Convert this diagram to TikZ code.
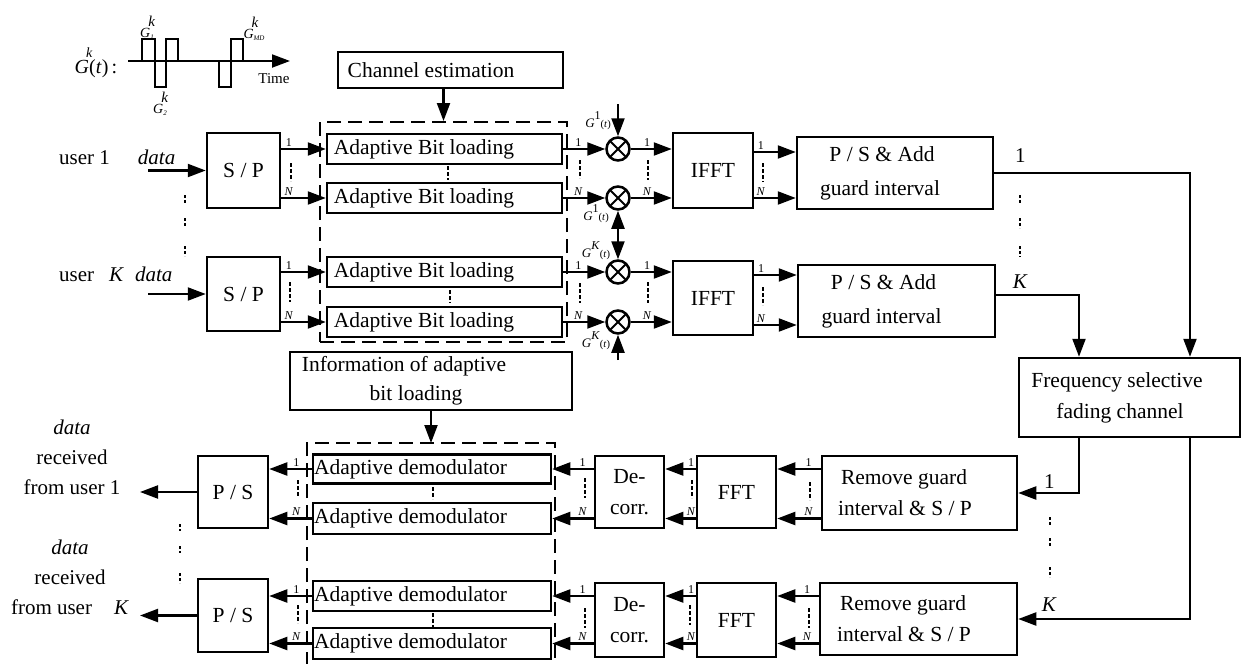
\documentclass[tikz,border=0pt]{standalone}
\usepackage{fontspec}
\setmainfont{Liberation Serif}
\usetikzlibrary{arrows.meta, positioning, calc}

\newcommand{\pushl}[1]{\hspace*{#1pt}}
% pulse labels G_i^k and code labels G^i(t)
\newcommand{\gcode}[2]{\textit{G}\rlap{\raisebox{11pt}{\fontsize{15}{15}\selectfont\kern-2pt\textit{#2}}}%
  \raisebox{-2.5pt}{\fontsize{7}{7}\selectfont\textit{#1}}}
\newcommand{\gmult}[1]{\textit{G}\raisebox{8pt}{\fontsize{12}{12}\selectfont #1}%
  {\fontsize{10.5}{10.5}\selectfont(\textit{t})}}

\tikzset{
  box/.style={draw, line width=2.5pt, inner sep=0pt, align=center,
              font=\fontsize{21.5}{31}\selectfont},
  group/.style={draw, dash pattern=on 14pt off 7pt, line width=2pt},
  arr/.style={-{Triangle[length=18pt,width=13pt]}, line width=2.2pt},
  mult/.style={circle, draw, line width=2.5pt, minimum size=23pt, inner sep=0pt,
               path picture={\draw[line width=2pt]
                 (path picture bounding box.north west) -- (path picture bounding box.south east)
                 (path picture bounding box.north east) -- (path picture bounding box.south west);}},
  num/.style={font=\fontsize{12}{12}\selectfont, inner sep=1.5pt},
  bignum/.style={font=\fontsize{21}{21}\selectfont, inner sep=0pt},
  txt/.style={font=\fontsize{21}{30}\selectfont, align=center, inner sep=0pt},
  glabel/.style={font=\fontsize{13}{13}\selectfont, inner sep=0pt},
  vdots/.style={line width=2.2pt, dash pattern=on 3.5pt off 2.5pt},
  sepdots/.style={line width=2pt, dash pattern=on 2.5pt off 2.5pt},
}

\begin{document}
\begin{tikzpicture}[x=1pt, y=-1pt]
\useasboundingbox (0,0) rectangle (1243,664);

% spreading code waveform
\node[inner sep=0pt, font=\fontsize{20}{20}\selectfont] (gk) at (96,63)
  {\textit{G}\rlap{\raisebox{15.5pt}{\fontsize{14}{14}\selectfont\kern-3pt\textit{k}}}(\textit{t})\,:};
\coordinate (tax0) at (128,61);
\coordinate (tax1) at (290,61);
\draw[arr, line width=2pt] (tax0) -- (tax1);
\draw[line width=2pt] (142,61) -- (142,39) -- (155,39) -- (155,87) -- (166,87)
                      -- (166,39) -- (178,39) -- (178,61);
\draw[line width=2pt] (219,61) -- (219,87) -- (231,87) -- (231,39) -- (243,39) -- (243,61);
\node[inner sep=0pt, font=\fontsize{14}{14}\selectfont] (g1k) at (147,28) {\gcode{1}{k}};
\node[inner sep=0pt, font=\fontsize{14}{14}\selectfont] (g2k) at (160,104) {\gcode{2}{k}};
\node[inner sep=0pt, font=\fontsize{14}{14}\selectfont] (gmdk) at (254,29) {\gcode{MD}{k}};
\node[inner sep=0pt, font=\fontsize{15}{15}\selectfont] (time) at (274,79) {Time};

% transmitter
\node[txt, anchor=west] (u1lbl) at (59,157) {user 1\hspace{28pt}\textit{data}};
\node[txt, anchor=west] (uKlbl) at (59,274) {user\hspace{15pt}\textit{K}\hspace{11pt}\textit{data}};
\coordinate (in1) at (148,170.5);
\coordinate (in2) at (148,294);

\node[box, minimum width=73pt, minimum height=75pt] (sp1) at (243.5,170.5) {S / P};
\node[box, minimum width=73pt, minimum height=74pt] (sp2) at (243.5,294) {S / P};

\node[group, minimum width=247pt, minimum height=220pt] (txgrp) at (443.5,232) {};
\node[box, minimum width=225pt, minimum height=36pt] (chest) at (450.5,70) {Channel estimation\pushl{39}};

\node[box, minimum width=235pt, minimum height=30pt] (blA1) at (444.5,149) {Adaptive Bit loading\pushl{41}};
\node[box, minimum width=235pt, minimum height=30pt] (blA2) at (444.5,198) {Adaptive Bit loading\pushl{41}};
\node[box, minimum width=235pt, minimum height=30pt] (blB1) at (444.5,272) {Adaptive Bit loading\pushl{41}};
\node[box, minimum width=235pt, minimum height=30pt] (blB2) at (444.5,322) {Adaptive Bit loading\pushl{41}};

\node[mult] (cA1) at (618,149) {};
\node[mult] (cA2) at (618,198) {};
\node[mult] (cB1) at (618,272) {};
\node[mult] (cB2) at (618,322) {};

\node[box, minimum width=80pt, minimum height=75pt] (ifft1) at (713,170.5) {IFFT};
\node[box, minimum width=80pt, minimum height=74pt] (ifft2) at (713,298) {IFFT};

\node[box, minimum width=196pt, minimum height=72pt, font=\fontsize{21.5}{34}\selectfont] (ps1) at (895,173)
  {P / S \& Add\pushl{26}\\guard interval\pushl{30}};
\node[box, minimum width=197pt, minimum height=72pt, font=\fontsize{21.5}{34}\selectfont] (ps2) at (896.5,301)
  {P / S \& Add\pushl{26}\\guard interval\pushl{30}};

% channel
\node[box, minimum width=221pt, minimum height=79pt] (freq) at (1129.5,397.5)
  {Frequency selective\pushl{25}\\fading channel\pushl{19}};

% receiver
\node[box, minimum width=195pt, minimum height=74pt] (rm1) at (919.5,493)
  {Remove guard\pushl{31}\\interval \& S / P\pushl{29}};
\node[box, minimum width=197pt, minimum height=72pt] (rm2) at (918.5,619)
  {Remove guard\pushl{31}\\interval \& S / P\pushl{29}};

\node[box, minimum width=79pt, minimum height=72pt] (fft1) at (736.5,492) {FFT};
\node[box, minimum width=79pt, minimum height=74pt] (fft2) at (736.5,620) {FFT};

\node[box, minimum width=69pt, minimum height=72pt] (dc1) at (629.5,492) {De-\\corr.};
\node[box, minimum width=69pt, minimum height=74pt] (dc2) at (629.5,620) {De-\\corr.};

\node[box, minimum width=238pt, minimum height=29pt] (dm1) at (432,469) {Adaptive demodulator\pushl{43}};
\node[box, minimum width=238pt, minimum height=31pt] (dm2) at (432,518.5) {Adaptive demodulator\pushl{43}};
\node[box, minimum width=238pt, minimum height=30pt] (dm3) at (432,596) {Adaptive demodulator\pushl{43}};
\node[box, minimum width=238pt, minimum height=31pt] (dm4) at (432,643.5) {Adaptive demodulator\pushl{43}};

\node[box, minimum width=70pt, minimum height=72pt] (rps1) at (233,492) {P / S};
\node[box, minimum width=70pt, minimum height=73pt] (rps2) at (233,615.5) {P / S};
\coordinate (out1) at (140,492);
\coordinate (out2) at (140,615.5);

\node[box, minimum width=282pt, minimum height=58pt, font=\fontsize{21.5}{29}\selectfont] (info) at (431,381)
  {Information of adaptive\pushl{54}\\bit loading\pushl{30}};
\coordinate (rxgrpSW) at (307,666);
\coordinate (rxgrpNW) at (307,443);
\coordinate (rxgrpNE) at (555,443);
\coordinate (rxgrpSE) at (555,666);
\draw[group] (rxgrpSW) -- (rxgrpNW) -- (rxgrpNE) -- (rxgrpSE);

\node[txt] (rx1lbl) at (72,457) {\textit{data}\\received\\from user 1};
\node[txt] (rxKlbl) at (70,577) {\textit{data}\\received\\from user\hspace{22pt}\textit{K}};

% code inputs of the multipliers
\coordinate (gA1in) at (618,104);
\coordinate (gmid) at (618,237);
\coordinate (gB2in) at (618,360);
\node[glabel] (gA1lbl) at (598,121) {\gmult{1}};
\node[glabel] (gA2lbl) at (596,214) {\gmult{1}};
\node[glabel] (gB1lbl) at (596,251) {\gmult{\textit{K}}};
\node[glabel] (gB2lbl) at (596,341) {\gmult{\textit{K}}};

% transmitter connectors
\draw[arr] (in1) -- (sp1.west);
\draw[arr] (in2) -- (sp2.west);
\draw[arr] (chest.south -| txgrp.north) -- (txgrp.north);

\draw[arr] (sp1.east |- blA1) -- node[num, above, pos=0.17] {1} (blA1.west);
\draw[arr] (sp1.east |- blA2) -- node[num, above, pos=0.17] {\textit{N}} (blA2.west);
\draw[arr] (sp2.east |- blB1) -- node[num, above, pos=0.17] {1} (blB1.west);
\draw[arr] (sp2.east |- blB2) -- node[num, above, pos=0.17] {\textit{N}} (blB2.west);

\draw[arr] (blA1) -- node[num, above, pos=0.36] {1} (cA1);
\draw[arr] (blA2) -- node[num, above, pos=0.36] {\textit{N}} (cA2);
\draw[arr] (blB1) -- node[num, above, pos=0.36] {1} (cB1);
\draw[arr] (blB2) -- node[num, above, pos=0.36] {\textit{N}} (cB2);

\draw[arr] (gA1in) -- (cA1);
\draw[arr] (gmid) -- (cA2);
\draw[arr] (gmid) -- (cB1);
\draw[arr] (gB2in) -- (cB2);

\draw[arr] (cA1) -- node[num, above, pos=0.4] {1} (cA1 -| ifft1.west);
\draw[arr] (cA2) -- node[num, above, pos=0.4] {\textit{N}} (cA2 -| ifft1.west);
\draw[arr] (cB1) -- node[num, above, pos=0.4] {1} (cB1 -| ifft2.west);
\draw[arr] (cB2) -- node[num, above, pos=0.4] {\textit{N}} (cB2 -| ifft2.west);

\draw[arr] ([yshift=-3pt]ifft1.east |- cA1) -- node[num, above, pos=0.16] {1} ([yshift=-3pt]ps1.west |- cA1);
\draw[arr] (ifft1.east |- cA2) -- node[num, above, pos=0.16] {\textit{N}} (ps1.west |- cA2);
\draw[arr] ([yshift=-3pt]ifft2.east |- cB1) -- node[num, above, pos=0.16] {1} ([yshift=-3pt]ps2.west |- cB1);
\draw[arr] ([yshift=-3pt]ifft2.east |- cB2) -- node[num, above, pos=0.16] {\textit{N}} ([yshift=-3pt]ps2.west |- cB2);

% channel connectors
\draw[arr] (ps1.east) -| ([xshift=60.5pt]freq.north);
\draw[arr] ([yshift=6pt]ps2.east) -| ([xshift=-50.5pt]freq.north);
\draw[arr] ([xshift=-50.5pt]freq.south) |- (rm1.east);
\draw[arr] ([xshift=60.5pt]freq.south) |- (rm2.east);
\node[bignum] (ch1lbl) at ($(ps1.east)+(26,-17)$) {1};
\node[bignum] (chKlbl) at ($(ps2.east)+(24,-19)$) {\textit{K}};
\node[bignum] (rm1lbl) at ($(rm1.east)+(31,-11)$) {1};
\node[bignum] (rmKlbl) at ($(rm2.east)+(31,-14)$) {\textit{K}};

% receiver connectors
\draw[arr] (rm1.west |- dm1) -- node[num, above, pos=0.28] {1} (fft1.east |- dm1);
\draw[arr] (rm1.west |- dm2) -- node[num, above, pos=0.28] {\textit{N}} (fft1.east |- dm2);
\draw[arr] (rm2.west |- dm3) -- node[num, above, pos=0.28] {1} (fft2.east |- dm3);
\draw[arr] (rm2.west |- dm4) -- node[num, above, pos=0.28] {\textit{N}} (fft2.east |- dm4);

\draw[arr] (fft1.west |- dm1) -- node[num, above, pos=0.15] {1} (dc1.east |- dm1);
\draw[arr] (fft1.west |- dm2) -- node[num, above, pos=0.15] {\textit{N}} (dc1.east |- dm2);
\draw[arr] (fft2.west |- dm3) -- node[num, above, pos=0.15] {1} (dc2.east |- dm3);
\draw[arr] (fft2.west |- dm4) -- node[num, above, pos=0.15] {\textit{N}} (dc2.east |- dm4);

\draw[arr] (dc1.west |- dm1) -- node[num, above, pos=0.27] {1} (dm1.east);
\draw[arr] (dc1.west |- dm2) -- node[num, above, pos=0.27] {\textit{N}} (dm2.east);
\draw[arr] (dc2.west |- dm3) -- node[num, above, pos=0.27] {1} (dm3.east);
\draw[arr] (dc2.west |- dm4) -- node[num, above, pos=0.27] {\textit{N}} (dm4.east);

\draw[arr] (dm1.west) -- node[num, above, pos=0.36] {1} (rps1.east |- dm1);
\draw[arr] (dm2.west) -- node[num, above, pos=0.36] {\textit{N}} (rps1.east |- dm2);
\draw[arr] (dm3.west) -- node[num, above, pos=0.36] {1} (rps2.east |- dm3);
\draw[arr] (dm4.west) -- node[num, above, pos=0.36] {\textit{N}} (rps2.east |- dm4);

\draw[arr] (rps1.west) -- (out1);
\draw[arr] (rps2.west) -- (out2);
\draw[arr] (info.south) -- (info.south |- rxgrpNW);

% parallel-branch dots
\foreach \x/\ya/\yb in {291/163/181, 448/166/180, 580/160/178, 648/160/180, 763/163/182,
                        290/282/302, 450/290/303, 580/283/303, 648/282/303, 763/287/305,
                        810/482/500, 692/480/498, 585/478/498, 433/487/499, 298/480/497,
                        809/608/628, 690/605/625, 585/608/628, 433/613/627, 298/605/623}
  \draw[vdots] (\x,\ya) -- (\x,\yb);
% user dots
\foreach \x/\ya/\yb in {185/195/203, 185/218/227, 185/246/256,
                        1020/195/204, 1020/218/228, 1020/246/257,
                        1050/517/525, 1050/538/547, 1050/567/577,
                        180/524/531, 180/546/553, 180/573/583}
  \draw[sepdots] (\x,\ya) -- (\x,\yb);

\end{tikzpicture}
\end{document}
